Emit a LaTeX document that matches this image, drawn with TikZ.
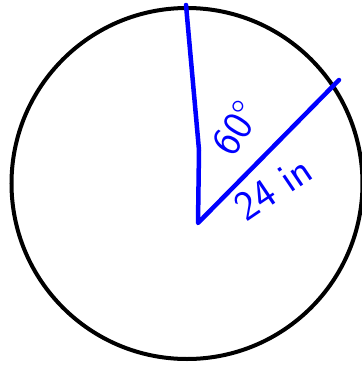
\documentclass[tikz,border=0pt]{standalone}
\usepackage{fontspec}
\usepackage{tikz}
\usetikzlibrary{positioning}

\tikzset{
  rim/.style={draw=black, line width=4pt},
  radius line/.style={draw=blue, line width=4.5pt, line cap=round, line join=round},
  hand label/.style={text=blue, font=\sffamily\fontsize{42}{46}\selectfont, inner sep=0pt}
}

\begin{document}
\begin{tikzpicture}[x=1pt, y=-1pt]
  \useasboundingbox (0,0) rectangle (362,365);
  % circle and the sector's corners
  \coordinate (o) at (187,183.5);
  \coordinate (v) at (198,223);
  \coordinate (bend) at (199,150);
  \coordinate (a) at (186,5);
  \coordinate (b) at (339,80);
  \draw[rim] (o) circle (175.5);
  \draw[radius line] (a) -- (bend) -- (v) -- (b);
  % labels
  \node[hand label, rotate=58] (ang) at (236,128) {60°};
  \node[hand label, rotate=34] (len) at (273,188) {24 in};
\end{tikzpicture}
\end{document}
